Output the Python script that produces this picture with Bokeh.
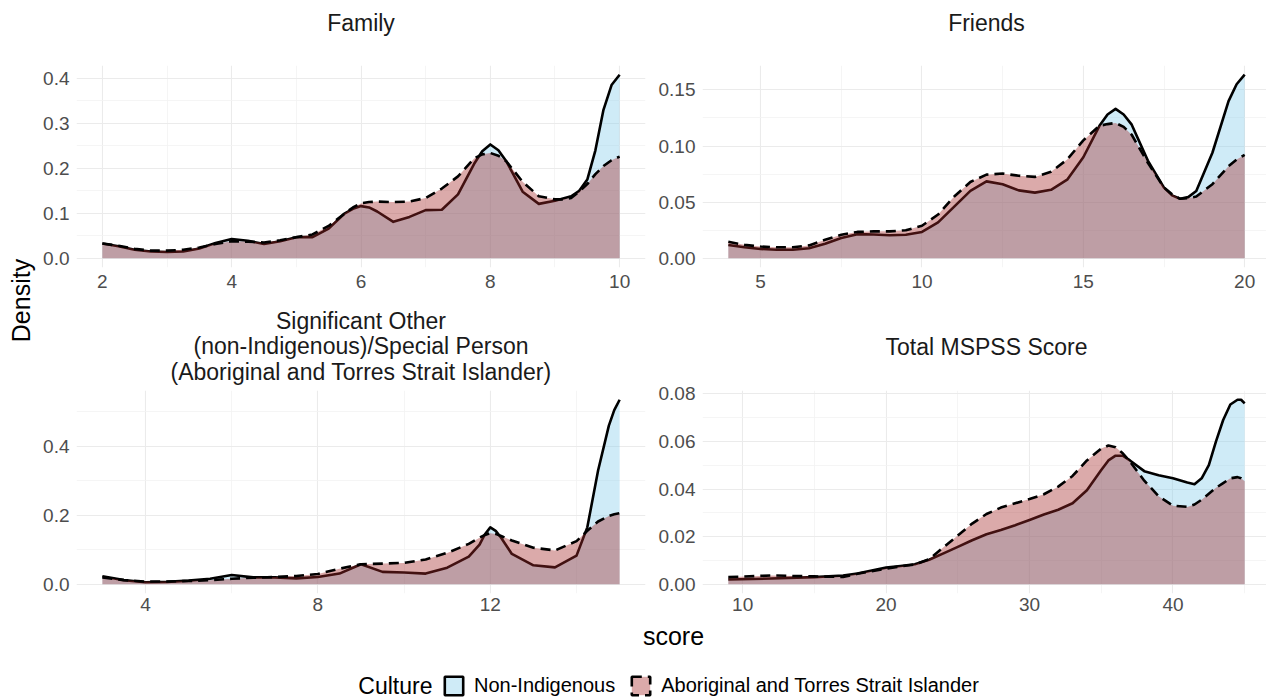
import math
from bokeh.plotting import figure
from bokeh.models import Range1d, FixedTicker, NumeralTickFormatter, Legend, LegendItem
from bokeh.layouts import row, column
from bokeh.embed import file_html
from bokeh.resources import INLINE
from bokeh.core.properties import value

FONT = "Liberation Sans"

# ---------------- data ----------------
series_names = ["Non-Indigenous", "Aboriginal and Torres Strait Islander"]
legend_title = "Culture"
x_title = "score"
y_title = "Density"
panel_titles = ["Family", "Friends",
                "Significant Other\n(non-Indigenous)/Special Person\n(Aboriginal and Torres Strait Islander)",
                "Total MSPSS Score"]

family_x = [2, 2.25, 2.5, 2.75, 3, 3.25, 3.5, 3.75, 4, 4.25, 4.5, 4.75, 5, 5.25, 5.5, 5.75,
            5.875, 6, 6.125, 6.25, 6.5, 6.75, 7, 7.25, 7.5, 7.75, 7.875, 8, 8.125, 8.25, 8.5,
            8.75, 9, 9.125, 9.25, 9.375, 9.5, 9.625, 9.75, 9.875, 10]
family_non = [0.033, 0.027, 0.019, 0.015, 0.014, 0.015, 0.022, 0.034, 0.043, 0.039, 0.032, 0.038,
              0.047, 0.047, 0.066, 0.1, 0.11, 0.116, 0.113, 0.104, 0.081, 0.092, 0.107, 0.108,
              0.142, 0.21, 0.238, 0.253, 0.24, 0.215, 0.148, 0.121, 0.128, 0.133, 0.138, 0.15,
              0.175, 0.24, 0.33, 0.385, 0.408]
family_abo = [0.033, 0.028, 0.021, 0.017, 0.017, 0.019, 0.024, 0.032, 0.038, 0.037, 0.035, 0.04,
              0.047, 0.053, 0.072, 0.1, 0.113, 0.122, 0.125, 0.126, 0.125, 0.126, 0.134, 0.155,
              0.182, 0.222, 0.231, 0.234, 0.228, 0.215, 0.17, 0.138, 0.131, 0.131, 0.134, 0.148,
              0.165, 0.187, 0.205, 0.218, 0.226]

friends_x = [4, 4.5, 5, 5.5, 6, 6.5, 7, 7.5, 8, 8.5, 9, 9.5, 10, 10.5, 11, 11.5, 12, 12.5, 13,
             13.5, 14, 14.5, 15, 15.5, 15.75, 16, 16.25, 16.5, 17, 17.5, 17.75, 18, 18.25, 18.5,
             19, 19.5, 19.75, 20]
friends_non = [0.0118, 0.0098, 0.0083, 0.0076, 0.0076, 0.009, 0.013, 0.018, 0.0215, 0.0212,
               0.0206, 0.021, 0.0235, 0.032, 0.046, 0.06, 0.0685, 0.066, 0.0605, 0.0585, 0.061,
               0.07, 0.09, 0.118, 0.128, 0.133, 0.128, 0.119, 0.087, 0.063, 0.056, 0.053, 0.0545,
               0.06, 0.094, 0.14, 0.155, 0.1635]
friends_abo = [0.0147, 0.012, 0.0105, 0.0098, 0.0098, 0.0115, 0.0165, 0.021, 0.0235, 0.024,
               0.024, 0.025, 0.029, 0.039, 0.055, 0.068, 0.0745, 0.0755, 0.0735, 0.0725, 0.077,
               0.088, 0.105, 0.118, 0.1195, 0.1205, 0.117, 0.11, 0.085, 0.063, 0.057, 0.053,
               0.0535, 0.055, 0.066, 0.082, 0.088, 0.092]

sig_x = [3, 3.5, 4, 4.5, 5, 5.5, 6, 6.5, 7, 7.5, 8, 8.5, 9, 9.5, 10, 10.5, 11, 11.5, 11.75,
         11.875, 12, 12.125, 12.25, 12.5, 13, 13.5, 14, 14.25, 14.5, 14.75, 14.875, 15]
sig_non = [0.023, 0.012, 0.006, 0.007, 0.0105, 0.016, 0.027, 0.02, 0.02, 0.017, 0.021, 0.031,
           0.058, 0.036, 0.034, 0.031, 0.048, 0.08, 0.115, 0.145, 0.165, 0.155, 0.135, 0.088,
           0.055, 0.049, 0.083, 0.165, 0.33, 0.46, 0.505, 0.535]
sig_abo = [0.02, 0.012, 0.008, 0.008, 0.0095, 0.012, 0.016, 0.019, 0.021, 0.024, 0.03, 0.045,
           0.058, 0.06, 0.062, 0.072, 0.091, 0.117, 0.135, 0.143, 0.148, 0.146, 0.14, 0.127,
           0.106, 0.098, 0.125, 0.155, 0.182, 0.198, 0.203, 0.206]

total_x = [9, 12, 15, 17, 18, 19, 20, 21, 22, 23, 24, 25, 26, 27, 28, 29, 30, 31, 32, 33, 34, 35,
           35.5, 36, 36.5, 37, 38, 39, 40, 41, 41.5, 42, 42.5, 43, 43.5, 44, 44.5, 44.75, 45]
total_non = [0.002, 0.0024, 0.003, 0.0037, 0.0045, 0.0058, 0.007, 0.0077, 0.0084, 0.0103, 0.013,
             0.0157, 0.0185, 0.021, 0.0228, 0.0248, 0.027, 0.0293, 0.0313, 0.034, 0.0395, 0.048,
             0.052, 0.054, 0.054, 0.052, 0.0475, 0.0458, 0.0445, 0.0427, 0.042, 0.0445, 0.05,
             0.06, 0.069, 0.0755, 0.0775, 0.0775, 0.076]
total_abo = [0.003, 0.0037, 0.0033, 0.0031, 0.0044, 0.0055, 0.0066, 0.0075, 0.0083, 0.0105,
             0.0155, 0.0205, 0.0255, 0.0295, 0.0322, 0.034, 0.0358, 0.0378, 0.041, 0.0455, 0.052,
             0.057, 0.0583, 0.0575, 0.055, 0.0515, 0.0435, 0.037, 0.033, 0.0325, 0.0335, 0.0355,
             0.038, 0.0405, 0.0425, 0.0445, 0.045, 0.0445, 0.0433]

# ticks
family_xticks, family_xminor = [2, 4, 6, 8, 10], [3, 5, 7, 9]
family_yticks, family_yminor = [0, 0.1, 0.2, 0.3, 0.4], [0.05, 0.15, 0.25, 0.35]
friends_xticks, friends_xminor = [5, 10, 15, 20], [7.5, 12.5, 17.5]
friends_yticks, friends_yminor = [0, 0.05, 0.1, 0.15], [0.025, 0.075, 0.125]
sig_xticks, sig_xminor = [4, 8, 12], [6, 10, 14]
sig_yticks, sig_yminor = [0, 0.2, 0.4], [0.1, 0.3, 0.5]
total_xticks, total_xminor = [10, 20, 30, 40], [15, 25, 35, 45]
total_yticks, total_yminor = [0, 0.02, 0.04, 0.06, 0.08], [0.01, 0.03, 0.05, 0.07]
family_yfmt, friends_yfmt, sig_yfmt, total_yfmt = "0.0", "0.00", "0.0", "0.00"

# ---------------- style ----------------
FILL_NON = "#87CEEB"
FILL_ABO = "#A52A2A"
FILL_ALPHA = 0.4
LINE_W = 2.6
DASH = "10 6"
TICK_COLOR = "#4D4D4D"


def make_panel(xs, y_non, y_abo, xt, xm, yt, ym, yfmt, width, height, bl, br, bt, bb,
               x_standoff, x_keep=1.0):
    span = max(xs) - min(xs)
    x0 = min(xs) - 0.05 * span
    x1 = x0 + 1.1 * span * x_keep
    ymax = max(max(y_non), max(y_abo))
    p = figure(width=width, height=height, output_backend="svg", toolbar_location=None,
               x_range=Range1d(x0, x1), y_range=Range1d(-0.05 * ymax, 1.05 * ymax),
               min_border_left=bl, min_border_right=br, min_border_top=bt, min_border_bottom=bb)
    p.outline_line_color = None
    p.background_fill_color = "white"
    p.border_fill_color = "white"
    xtk = FixedTicker(ticks=xt, minor_ticks=xm)
    ytk = FixedTicker(ticks=yt, minor_ticks=ym)
    p.xaxis.ticker = xtk
    p.yaxis.ticker = ytk
    p.xgrid.ticker = xtk
    p.ygrid.ticker = ytk
    p.yaxis.formatter = NumeralTickFormatter(format=yfmt)
    for ax in (p.xaxis[0], p.yaxis[0]):
        ax.axis_line_color = None
        ax.major_tick_line_color = None
        ax.minor_tick_line_color = None
        ax.major_tick_out = 0
        ax.major_tick_in = 0
        ax.minor_tick_out = 0
        ax.minor_tick_in = 0
        ax.major_label_text_font = FONT
        ax.major_label_text_font_size = "19px"
        ax.major_label_text_color = TICK_COLOR
    p.xaxis.major_label_standoff = x_standoff
    p.yaxis.major_label_standoff = 7
    for g in (p.xgrid[0], p.ygrid[0]):
        g.grid_line_color = "#EBEBEB"
        g.grid_line_width = 1.1
        g.minor_grid_line_color = "#F3F3F3"
        g.minor_grid_line_width = 0.8
    p.varea(x=xs, y1=[0] * len(xs), y2=y_non, fill_color=FILL_NON, fill_alpha=FILL_ALPHA)
    p.line(x=xs, y=y_non, line_color="black", line_width=LINE_W, line_join="round")
    p.varea(x=xs, y1=[0] * len(xs), y2=y_abo, fill_color=FILL_ABO, fill_alpha=FILL_ALPHA)
    p.line(x=xs, y=y_abo, line_color="black", line_width=LINE_W, line_dash=DASH, line_join="round")
    return p


def make_strip(panel, xs, text, height, bl, br, from_top):
    s = figure(width=panel.width, height=height, output_backend="svg", toolbar_location=None,
               x_range=panel.x_range, y_range=Range1d(0, height),
               x_axis_location=None, y_axis_location=None,
               min_border_left=bl, min_border_right=br, min_border_top=0, min_border_bottom=0)
    s.outline_line_color = None
    s.grid.visible = False
    s.text(x=[(min(xs) + max(xs)) / 2], y=[height - from_top], text=[text],
           text_align="center", text_baseline="middle", text_font=value(FONT),
           text_font_size="23px", text_color="#1A1A1A", text_line_height=0.98)
    return s


YW, LW, RW = 38, 612, 616     # widths: y title / left column / right column
LBL, LBR = 38, 5              # left panel borders
RBL, RBR = 52, 0              # right panel borders
S1H, P1H, BH = 60, 240, 78
LS2H, LP2H = 88, 231          # left column: tall 3-line strip
RS2H, RP2H = 78, 241          # right column: 1-line strip, more room above the panel

p_fam = make_panel(family_x, family_non, family_abo, family_xticks, family_xminor,
                   family_yticks, family_yminor, family_yfmt, LW, P1H, LBL, LBR, 5, 33, 7)
p_fri = make_panel(friends_x, friends_non, friends_abo, friends_xticks, friends_xminor,
                   friends_yticks, friends_yminor, friends_yfmt, RW, P1H, RBL, RBR, 5, 33, 7,
                   x_keep=564 / 568)
p_sig = make_panel(sig_x, sig_non, sig_abo, sig_xticks, sig_xminor,
                   sig_yticks, sig_yminor, sig_yfmt, LW, LP2H, LBL, LBR, 2, 26, 4)
p_tot = make_panel(total_x, total_non, total_abo, total_xticks, total_xminor,
                   total_yticks, total_yminor, total_yfmt, RW, RP2H, RBL, RBR, 12, 26, 4,
                   x_keep=564 / 568)

s_fam = make_strip(p_fam, family_x, panel_titles[0], S1H, LBL, LBR, 22)
s_fri = make_strip(p_fri, friends_x, panel_titles[1], S1H, RBL, RBR, 22)
s_sig = make_strip(p_sig, sig_x, panel_titles[2], LS2H, LBL, LBR, 46)
s_tot = make_strip(p_tot, total_x, panel_titles[3], RS2H, RBL, RBR, 46)

# y axis title
YH = S1H + P1H + LS2H + LP2H
ylab = figure(width=YW, height=YH, output_backend="svg", toolbar_location=None,
              x_range=Range1d(0, YW), y_range=Range1d(0, YH),
              x_axis_location=None, y_axis_location=None, min_border=0)
ylab.outline_line_color = None
ylab.grid.visible = False
ylab.text(x=[20], y=[YH - 300], text=[y_title], angle=math.pi / 2,
          text_align="center", text_baseline="middle", text_font=value(FONT),
          text_font_size="25px", text_color="black")

# bottom: x axis title and legend
BW = YW + LW + RW
bot = figure(width=BW, height=BH, output_backend="svg", toolbar_location=None,
             x_range=Range1d(0, BW), y_range=Range1d(0, BH),
             x_axis_location=None, y_axis_location=None, min_border=0)
bot.outline_line_color = None
bot.grid.visible = False
bot.text(x=[673], y=[BH - 16], text=[x_title], text_align="center", text_baseline="middle",
         text_font=value(FONT), text_font_size="25px", text_color="black")
bot.text(x=[432], y=[12], text=[legend_title], text_align="right", text_baseline="middle",
         text_font=value(FONT), text_font_size="23px", text_color="black")
# legend key glyphs (placed outside the visible range; only their legend swatches show)
r_non = bot.quad(left=[-30], right=[-20], top=[-20], bottom=[-30], fill_color=FILL_NON,
                 fill_alpha=FILL_ALPHA, line_color="black", line_width=LINE_W)
r_abo = bot.quad(left=[-30], right=[-20], top=[-20], bottom=[-30], fill_color=FILL_ABO,
                 fill_alpha=FILL_ALPHA, line_color="black", line_width=LINE_W, line_dash=DASH)
leg = Legend(items=[LegendItem(label=series_names[0], renderers=[r_non]),
                    LegendItem(label=series_names[1], renderers=[r_abo])],
             orientation="horizontal", location=(442, 0),
             glyph_width=23, glyph_height=23, label_standoff=9, spacing=14,
             padding=0, margin=0, border_line_color=None, background_fill_alpha=0,
             label_text_font=FONT, label_text_font_size="20px", label_text_color="black")
bot.add_layout(leg)

left_col = column(s_fam, p_fam, s_sig, p_sig)
right_col = column(s_fri, p_fri, s_tot, p_tot)
layout = column(row(ylab, left_col, right_col), bot)

open("out.html", "w").write(file_html(layout, INLINE))
